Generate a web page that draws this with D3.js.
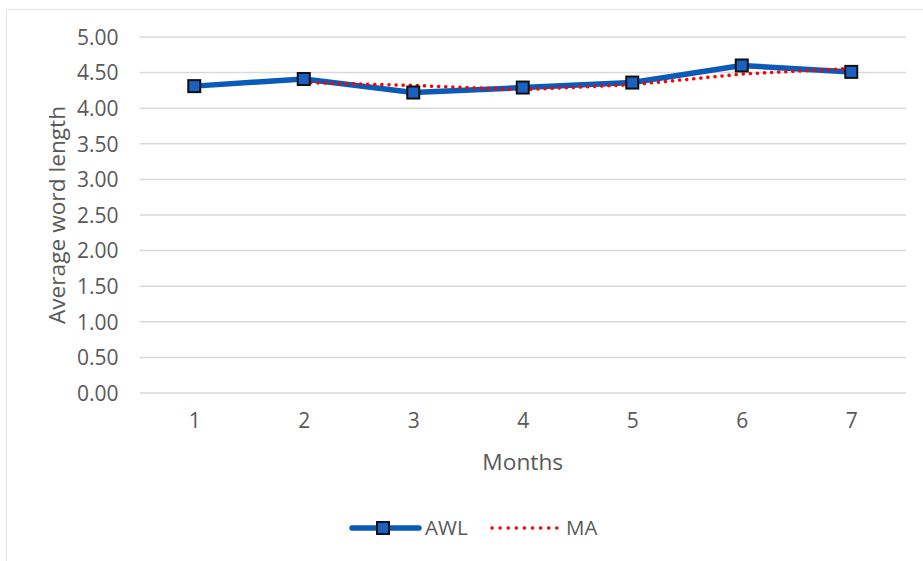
<!DOCTYPE html>
<html>
<head>
<meta charset="utf-8">
<script src="https://cdn.jsdelivr.net/npm/d3@7/dist/d3.min.js"></script>
<style>
  html, body { margin: 0; padding: 0; background: #fff; }
  svg { display: block; font-family: "Open Sans", "Noto Sans", sans-serif; }
</style>
</head>
<body>
<svg id="chart" width="923" height="561"></svg>
<script>
// Months and monthly average word length, with its 2-month moving average
const months = ["1", "2", "3", "4", "5", "6", "7"];
const awl = [4.31, 4.41, 4.22, 4.29, 4.36, 4.60, 4.51];
const ma = [null, 4.36, 4.32, 4.26, 4.33, 4.48, 4.56];
const yTicks = [0, 0.5, 1, 1.5, 2, 2.5, 3, 3.5, 4, 4.5, 5];
const seriesNames = ["AWL", "MA"];

const svg = d3.select("#chart");
const textColor = "#595959";
const gridColor = "#d9d9d9";
const blue = "#0a5ab8";
const markerFill = "#1a61c2";
const red = "#ff0000";

// chart-area frame (top and left edges visible)
svg.append("path")
  .attr("d", "M6.5,561 V9.5 H923")
  .attr("fill", "none")
  .attr("stroke", "#e3e3e3")
  .attr("stroke-width", 1);

const plot = { left: 139.5, right: 906, top: 37, bottom: 393 };

const x = d3.scalePoint()
  .domain(months)
  .range([plot.left, plot.right])
  .padding(0.5);

const y = d3.scaleLinear()
  .domain([0, 5])
  .range([plot.bottom, plot.top]);

// horizontal gridlines
svg.append("g")
  .selectAll("line")
  .data(yTicks)
  .join("line")
  .attr("x1", plot.left)
  .attr("x2", plot.right)
  .attr("y1", d => y(d))
  .attr("y2", d => y(d))
  .attr("stroke", gridColor)
  .attr("stroke-width", 1.5);

// y axis labels
const yAxis = svg.append("g")
  .attr("transform", `translate(${plot.left - 21},0)`)
  .call(d3.axisLeft(y).tickValues(yTicks).tickFormat(d3.format(".2f")).tickSize(0).tickPadding(0));
yAxis.select(".domain").remove();
yAxis.selectAll("text")
  .attr("fill", textColor)
  .attr("font-size", 21)
  .attr("dy", "0.35em")
  .style("font-family", "'Open Sans', sans-serif");

// x axis labels
const xAxis = svg.append("g")
  .attr("transform", `translate(0,${plot.bottom + 20})`)
  .call(d3.axisBottom(x).tickSize(0).tickPadding(0));
xAxis.select(".domain").remove();
xAxis.selectAll("text")
  .attr("fill", textColor)
  .attr("font-size", 21)
  .attr("dy", "0.71em")
  .style("font-family", "'Open Sans', sans-serif");

// axis titles
svg.append("text")
  .attr("x", (plot.left + plot.right) / 2)
  .attr("y", 470)
  .attr("text-anchor", "middle")
  .attr("fill", textColor)
  .attr("font-size", 22.7)
  .text("Months");

svg.append("text")
  .attr("transform", `translate(65,${(plot.top + plot.bottom) / 2}) rotate(-90)`)
  .attr("text-anchor", "middle")
  .attr("fill", textColor)
  .attr("font-size", 22.7)
  .text("Average word length");

// AWL line
const awlLine = d3.line()
  .x((d, i) => x(months[i]))
  .y(d => y(d));

svg.append("path")
  .datum(awl)
  .attr("d", awlLine)
  .attr("fill", "none")
  .attr("stroke", blue)
  .attr("stroke-width", 5.5)
  .attr("stroke-linejoin", "round");

// moving average line
const maLine = d3.line()
  .defined(d => d !== null)
  .x((d, i) => x(months[i]))
  .y(d => y(d));

svg.append("path")
  .datum(ma)
  .attr("d", maLine)
  .attr("fill", "none")
  .attr("stroke", red)
  .attr("stroke-width", 3.5)
  .attr("stroke-linecap", "round")
  .attr("stroke-dasharray", "0.1 7");

// AWL markers
const ms = 12;
svg.append("g")
  .selectAll("rect")
  .data(awl)
  .join("rect")
  .attr("x", (d, i) => x(months[i]) - ms / 2)
  .attr("y", d => y(d) - ms / 2)
  .attr("width", ms)
  .attr("height", ms)
  .attr("fill", markerFill)
  .attr("stroke", "#111")
  .attr("stroke-width", 2);

// legend
const legend = svg.append("g").attr("transform", "translate(0,528)");
legend.append("line")
  .attr("x1", 352).attr("x2", 419)
  .attr("y1", 0).attr("y2", 0)
  .attr("stroke", blue)
  .attr("stroke-width", 5.5)
  .attr("stroke-linecap", "round");
legend.append("rect")
  .attr("x", 383 - 6).attr("y", -6)
  .attr("width", 12).attr("height", 12)
  .attr("fill", markerFill)
  .attr("stroke", "#111")
  .attr("stroke-width", 2);
legend.append("text")
  .attr("x", 425).attr("y", 0)
  .attr("dy", "0.35em")
  .attr("fill", textColor)
  .attr("font-size", 20.5)
  .text(seriesNames[0]);
legend.append("line")
  .attr("x1", 492).attr("x2", 557)
  .attr("y1", 0).attr("y2", 0)
  .attr("stroke", red)
  .attr("stroke-width", 3.5)
  .attr("stroke-linecap", "round")
  .attr("stroke-dasharray", "0.1 8");
legend.append("text")
  .attr("x", 566).attr("y", 0)
  .attr("dy", "0.35em")
  .attr("fill", textColor)
  .attr("font-size", 20.5)
  .text(seriesNames[1]);
</script>
</body>
</html>
